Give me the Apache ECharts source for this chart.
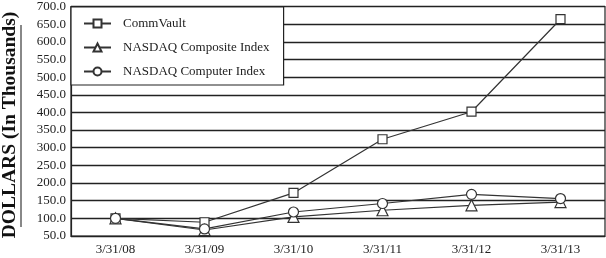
<!DOCTYPE html>
<html>
<head>
<meta charset="utf-8">
<script src="https://cdn.jsdelivr.net/npm/echarts@6/dist/echarts.min.js"></script>
<style>
html,body{margin:0;padding:0;background:#fff;}
#chart{width:606px;height:258px;}
</style>
</head>
<body>
<div id="chart"></div>
<script>
var categories = ['3/31/08', '3/31/09', '3/31/10', '3/31/11', '3/31/12', '3/31/13'];
var commVault = [100, 89, 172, 324, 402, 664];
var nasdaqComposite = [100, 67, 104, 123, 137, 146];
var nasdaqComputer = [100, 70, 118, 142, 168, 156];
var yTitle = 'DOLLARS (In Thousands)';

var serif = '"Liberation Serif", "Times New Roman", serif';
var lineColor = '#333';

function series(name, data, symbol, size) {
  return {
    name: name,
    type: 'line',
    data: data,
    symbol: symbol,
    symbolSize: size,
    showAllSymbol: true,
    lineStyle: { color: lineColor, width: 1.2 },
    itemStyle: { color: '#fff', borderColor: lineColor, borderWidth: 1.2 },
    emphasis: { disabled: true },
    z: 3
  };
}

var chart = echarts.init(document.getElementById('chart'), null, { renderer: 'canvas' });
chart.setOption({
  animation: false,
  backgroundColor: '#fff',
  grid: { left: 71, right: 1, top: 6, bottom: 22, show: true, borderColor: '#222', borderWidth: 1.2, backgroundColor: 'transparent' },
  legend: {
    orient: 'vertical',
    left: 71, top: 7,
    padding: [10, 14, 7, 12],
    itemWidth: 27, itemHeight: 10, itemGap: 11,
    backgroundColor: '#fff',
    borderColor: '#222', borderWidth: 1.2,
    textStyle: { fontFamily: serif, fontSize: 13, color: '#222', padding: [0, 0, 0, 7] },
    data: ['CommVault', 'NASDAQ Composite Index', 'NASDAQ Computer Index']
  },
  xAxis: {
    type: 'category',
    data: categories,
    boundaryGap: true,
    axisLine: { lineStyle: { color: '#222', width: 1.2 } },
    axisTick: { alignWithLabel: true, length: 5, lineStyle: { color: '#222' } },
    axisLabel: { fontFamily: serif, fontSize: 13, color: '#222', margin: 7 },
    splitLine: { show: false }
  },
  yAxis: {
    type: 'value',
    min: 50, max: 700, interval: 50,
    axisLine: { show: true, lineStyle: { color: '#222', width: 1.2 } },
    axisTick: { show: false },
    axisLabel: { fontFamily: serif, fontSize: 13, color: '#222', margin: 5,
      formatter: function (v) { return v.toFixed(1); } },
    splitLine: { lineStyle: { color: '#222', width: 1.3 } }
  },
  graphic: [
    {
      type: 'text', x: 10, y: 125, rotation: Math.PI / 2,
      style: { text: yTitle, fontFamily: serif, fontWeight: 'bold', fontSize: 19.5, fill: '#111', align: 'center', verticalAlign: 'middle' }
    },
    {
      type: 'line', shape: { x1: 21, y1: 25, x2: 21, y2: 227 },
      style: { stroke: '#888', lineWidth: 2 }
    }
  ],
  series: [
    series('CommVault', commVault, 'rect', 9),
    series('NASDAQ Composite Index', nasdaqComposite, 'triangle', 11),
    series('NASDAQ Computer Index', nasdaqComputer, 'circle', 10)
  ]
});
</script>
</body>
</html>
